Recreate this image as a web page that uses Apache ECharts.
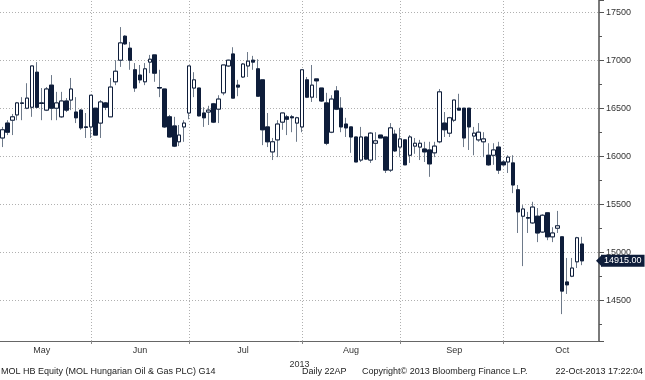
<!DOCTYPE html>
<html><head><meta charset="utf-8">
<script src="https://cdn.jsdelivr.net/npm/echarts@6/dist/echarts.min.js"></script>
<style>html,body{margin:0;padding:0;background:#fff}#c{width:645px;height:380px}</style>
</head><body><div id="c"></div>
<script>
const monthNames = ['May','Jun','Jul','Aug','Sep','Oct'];
const monthCounts = [18,20,23,20,21,17];
const monthLabelIdx = [8,28,49,71,92,114];
const padCount = 3;
const openV = [16195,16350,16380,16435,16555,16505,16515,16880,16560,16485,16745,16505,16415,16580,16590,16465,16485,16310,16310,16505,16350,16560,16415,16780,17005,17255,17130,16905,16850,16780,16985,17060,16720,16705,16415,16320,16155,16310,16455,16715,16715,16455,16465,16550,16495,16665,16945,17070,16745,16830,16945,17005,16915,16800,16310,16050,16175,16360,16415,16415,16350,16310,16800,16620,16810,16715,16560,16255,16685,16505,16340,16310,16205,15965,16205,15965,16140,16225,16205,15860,16235,16100,16175,16015,16110,16100,16080,16070,16040,16155,16350,16245,16380,16505,16505,16505,16215,16175,16155,16015,16015,16100,15945,15945,15935,15655,15380,15365,15310,15380,15215,15415,15165,15255,15165,14695,14755,14905,15090];
const closeV = [16280,16255,16415,16560,16560,16610,16945,16515,16555,16705,16505,16560,16580,16485,16705,16405,16300,16305,16640,16225,16570,16515,16725,16890,17185,17175,17005,16715,16800,16915,17015,16870,16715,16310,16205,16110,16225,16350,16945,16800,16425,16405,16485,16360,16600,16955,17005,16610,16725,16965,16995,16985,16630,16280,16155,16155,16340,16455,16390,16405,16405,16905,16620,16745,16790,16580,16140,16600,16495,16310,16300,16205,15945,16205,15975,16245,16165,16195,15860,16300,16060,16185,15915,16205,16140,16140,16050,15925,16110,16675,16280,16405,16590,16485,16195,16310,16245,16255,16185,15915,16070,15860,15915,15995,15705,15425,15455,15360,15475,15205,15390,15165,15205,15280,14600,14665,14840,15155,14915];
const lowV = [16100,16225,16225,16380,16380,16495,16415,16505,16380,16475,16380,16380,16405,16465,16485,16350,16280,16195,16195,16225,16195,16485,16415,16745,16935,17165,16905,16675,16765,16745,16870,16780,16620,16300,16200,16100,16110,16155,16390,16620,16420,16310,16330,16350,16350,16640,16935,16610,16630,16820,16830,16905,16630,16120,16100,15965,15995,16280,16225,16255,16155,16255,16610,16570,16610,16570,16120,16245,16485,16255,16205,16040,15945,15945,15965,15935,15965,16195,15830,15840,16050,15995,15915,15935,16030,15965,15945,15790,15995,16140,16205,16205,16360,16485,16100,16070,16015,16155,15995,15905,15915,15820,15905,15830,15620,15205,14860,15205,15300,15110,15205,15130,15110,15205,14360,14570,14745,14840,14870];
const highV = [16310,16380,16445,16570,16620,16765,16945,16985,16715,16725,16850,16675,16675,16610,16820,16620,16495,16455,16640,16505,16590,16570,16820,17005,17350,17265,17195,16975,16955,16975,17060,17060,16905,16705,16435,16415,16330,16380,16945,16880,16715,16515,16530,16560,16640,16955,17010,17140,16800,16975,17090,17050,17015,16800,16455,16195,16380,16455,16435,16435,16415,16905,16830,16955,16810,16715,16665,16640,16735,16620,16405,16310,16205,16310,16205,16255,16255,16225,16205,16350,16280,16300,16175,16225,16195,16175,16155,16155,16155,16705,16465,16415,16590,16655,16505,16505,16310,16350,16255,16140,16140,16155,15965,16015,16015,15705,15495,15425,15530,15465,15400,15415,15265,15435,15165,14945,14945,15165,15165];
const lastPrice = 14915.00;
const footerLeft = 'MOL HB Equity (MOL Hungarian Oil & Gas PLC) G14';
const footerMid = 'Daily 22AP';
const footerCopy = 'Copyright\u00a9 2013 Bloomberg Finance L.P.';
const footerDate = '22-Oct-2013 17:22:04';
const yearLabel = '2013';

const categories = [];
const monthStarts = [];
monthNames.forEach((m, mi) => {
  if (mi > 0) monthStarts.push(categories.length);
  for (let k = 0; k < monthCounts[mi]; k++) categories.push(m + ' ' + (k + 1));
});
for (let k = 0; k < padCount; k++) categories.push('pad ' + k);

const fullData = openV.map((o, i) => [o, closeV[i], lowV[i], highV[i]]);
const bodyData = openV.map((o, i) => [o, closeV[i], Math.min(o, closeV[i]), Math.max(o, closeV[i])]);

const navy = '#0e1d3a';
const font = 'Liberation Sans';
const chart = echarts.init(document.getElementById('c'));
const footStyle = {fontSize: 9, fontWeight: 'normal', color: '#222', fontFamily: font};
chart.setOption({
  animation: false,
  backgroundColor: '#fff',
  textStyle: {fontFamily: font},
  title: [
    {text: footerLeft, left: 1, top: 367, padding: 0, textStyle: footStyle},
    {text: footerMid, left: 302, top: 367, padding: 0, textStyle: footStyle},
    {text: footerCopy, left: 362, top: 367, padding: 0, textStyle: footStyle},
    {text: footerDate, right: 2, top: 367, padding: 0, textStyle: footStyle}
  ],
  grid: {left: 0, right: 46, top: 0, bottom: 39, containLabel: false},
  xAxis: {
    type: 'category', data: categories, boundaryGap: true,
    axisLine: {show: true, lineStyle: {color: '#666', width: 1}},
    axisTick: {show: true, alignWithLabel: true, length: 3, interval: (i) => monthStarts.includes(i), lineStyle: {color: '#888'}},
    axisLabel: {interval: (i) => monthLabelIdx.includes(i), formatter: (v) => v.split(' ')[0], color: '#333', fontSize: 9, margin: 5, fontFamily: font},
    splitLine: {show: false},
    name: yearLabel, nameLocation: 'middle', nameGap: 14,
    nameTextStyle: {color: '#333', fontSize: 9, fontFamily: font, verticalAlign: 'top'}
  },
  yAxis: {
    type: 'value', position: 'right', min: 14080, max: 17632, splitNumber: 7,
    axisLine: {show: true, lineStyle: {color: '#7a7a7a', width: 2}},
    axisTick: {show: true, length: 5, lineStyle: {color: '#555'}},
    minorTick: {show: true, splitNumber: 2, length: 3, lineStyle: {color: '#555'}},
    axisLabel: {showMinLabel: false, showMaxLabel: false, formatter: (v) => String(Math.round(v)), color: '#333', fontSize: 9, margin: 7, fontFamily: font},
    splitLine: {show: true, showMinLine: false, showMaxLine: false, lineStyle: {type: [1, 2], color: '#b0b0b0', width: 1}},
    minorSplitLine: {show: false}
  },
  series: [
    {
      type: 'candlestick', name: 'wicks', data: fullData, barWidth: 4, z: 2,
      itemStyle: {color: '#fff', color0: navy, borderColor: '#6e7a8a', borderColor0: '#6e7a8a', borderWidth: 1},
      markLine: {
        silent: true, z: 1, symbol: ['none', 'none'], label: {show: false},
        lineStyle: {type: [1, 2], color: '#b0b0b0', width: 1},
        data: monthStarts.map(i => ({xAxis: categories[i]}))
      }
    },
    {
      type: 'candlestick', name: 'bodies', data: bodyData, barWidth: 4, z: 3,
      itemStyle: {color: '#fff', color0: navy, borderColor: navy, borderColor0: navy, borderWidth: 1},
      markLine: {
        silent: true, symbol: ['none', 'triangle'], symbolSize: [12, 6], symbolRotate: 90,
        lineStyle: {width: 0, color: navy},
        label: {show: true, position: 'end', distance: 2, formatter: lastPrice.toFixed(2), color: '#fff', backgroundColor: navy, padding: [2, 3, 1, 3], fontSize: 9, fontFamily: font},
        data: [{yAxis: lastPrice}]
      }
    }
  ]
});
</script></body></html>
